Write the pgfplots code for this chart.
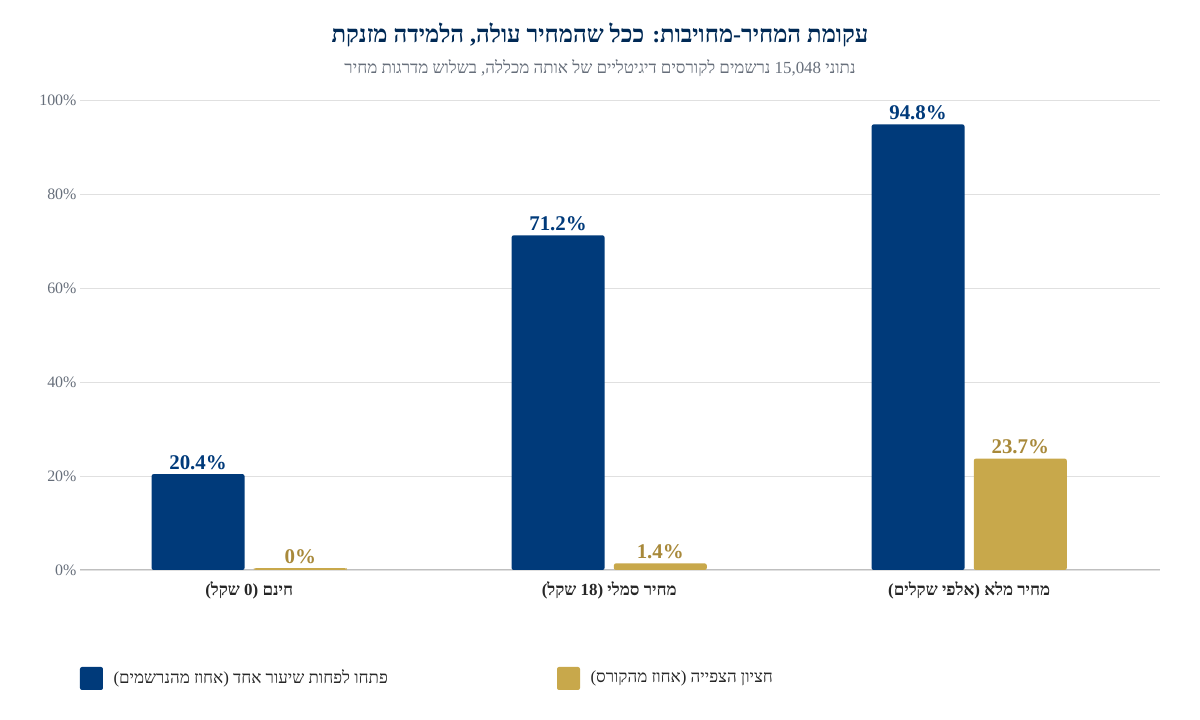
\documentclass[border=0pt]{standalone}
\usepackage{pgfplots}
\pgfplotsset{compat=1.18}
\usepackage{fontspec}
\setmainfont{Liberation Serif}
\newfontfamily\heb[Script=Hebrew]{Liberation Serif}
\TeXXeTstate=1
\definecolor{cblue}{HTML}{003A7A}
\definecolor{cgold}{HTML}{C8A84B}
\definecolor{cgoldt}{HTML}{A8893A}
\definecolor{cgray}{HTML}{666E7A}
\begin{document}
\begin{tikzpicture}[x=1bp,y=1bp]
\useasboundingbox (-80,-150) rectangle (1120,570);
\begin{axis}[at={(0,0)},anchor=south west,scale only axis,
 width=1080bp,height=470bp,
 xmin=-0.47,xmax=2.53,ymin=0,ymax=100,
 xtick={0,1,2},
 xticklabels={{\heb\beginR חינם (0 שקל)\endR},{\heb\beginR מחיר סמלי (18 שקל)\endR},{\heb\beginR מחיר מלא (אלפי שקלים)\endR}},
 xticklabel style={font=\fontsize{17}{19}\selectfont\bfseries,text=black!85,yshift=-8bp},
 ytick={0,20,40,60,80,100},
 yticklabel={\pgfmathprintnumber{\tick}\%},
 /pgf/number format/assume math mode=true,
 yticklabel style={font=\fontsize{16}{18}\selectfont,text=cgray},
 ymajorgrids,grid style={black!12,line width=0.8bp},
 axis x line*=bottom, axis y line*=left,
 x axis line style={black!25,line width=1bp},
 y axis line style={draw=none},
 major tick length=0,
 ybar, bar width=0.258, bar shift=0pt,
 point meta=explicit,
 nodes near coords={\pgfmathprintnumber{\pgfplotspointmeta}\%},
 nodes near coords style={font=\fontsize{21}{23}\selectfont\bfseries,yshift=1bp},
 clip=false]
\addplot[fill=cblue,draw=none,rounded corners=2bp,nodes near coords style={text=cblue}] coordinates {(-0.142,20.4)[20.4] (0.858,71.2)[71.2] (1.858,94.8)[94.8]};
\addplot[fill=cgold,draw=none,rounded corners=2bp,nodes near coords style={text=cgoldt}] coordinates {(0.142,0.4)[0] (1.142,1.4)[1.4] (2.142,23.7)[23.7]};
\end{axis}
\node[font=\fontsize{24}{26}\selectfont\bfseries,text=cblue!70!black] at (520,535) {\heb\beginR עקומת המחיר-מחויבות: ככל שהמחיר עולה, הלמידה מזנקת\endR};
\node[font=\fontsize{17}{19}\selectfont,text=cgray] at (520,502) {\heb\beginR נתוני \beginL15,048\endL{} נרשמים לקורסים דיגיטליים של אותה מכללה, בשלוש מדרגות מחיר\endR};
\fill[cblue,rounded corners=2bp] (0,-97) rectangle (23,-120);
\node[anchor=west,font=\fontsize{17}{19}\selectfont,text=black!85] at (30,-108.5) {\heb\beginR פתחו לפחות שיעור אחד (אחוז מהנרשמים)\endR};
\fill[cgold,rounded corners=2bp] (477,-97) rectangle (500,-120);
\node[anchor=west,font=\fontsize{17}{19}\selectfont,text=black!85] at (507,-108.5) {\heb\beginR חציון הצפייה (אחוז מהקורס)\endR};
\end{tikzpicture}
\end{document}
